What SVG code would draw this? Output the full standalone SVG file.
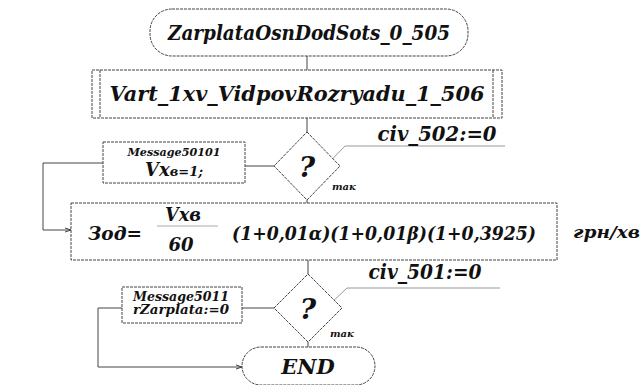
<svg xmlns="http://www.w3.org/2000/svg" width="642" height="385" viewBox="0 0 642 385">
  <style>
    .shape { fill: #fff; stroke: #444; stroke-width: 1; stroke-dasharray: 3 1; }
    .line { fill: none; stroke: #444; stroke-width: 1; }
    .note { fill: none; stroke: #999; stroke-width: 1; }
  </style>
  <defs>
    <marker id="arrow" markerWidth="6" markerHeight="6" refX="6" refY="3" orient="auto" markerUnits="userSpaceOnUse">
      <path d="M0,1 L6,3 L0,5" fill="none" stroke="#444" stroke-width="1"/>
    </marker>
  </defs>
  <rect width="642" height="385" fill="#fff"/>

  <!-- connectors -->
  <g id="connectors">
    <line class="line" x1="307" y1="56" x2="307" y2="70"/>
    <line class="line" x1="307" y1="118" x2="307" y2="132"/>
    <line class="line" x1="307" y1="200" x2="307" y2="203"/>
    <line class="line" x1="245" y1="166" x2="274" y2="166"/>
    <polyline class="line" points="103,163 43,163 43,230 71,230" marker-end="url(#arrow)"/>
    <line class="line" x1="308" y1="260" x2="308" y2="274"/>
    <line class="line" x1="242" y1="308" x2="274" y2="308"/>
    <line class="line" x1="308" y1="342" x2="308" y2="347"/>
    <polyline class="line" points="122,308 98,308 98,367 242,367" marker-end="url(#arrow)"/>
    <!-- condition callouts -->
    <polyline class="note" points="310,182 345,146 505,146"/>
    <polyline class="note" points="310,323 347,288 500,288"/>
  </g>

  <g font-family="DejaVu Serif, Liberation Serif, serif" font-weight="bold" font-style="italic" fill="#111">
  <g id="start">
    <rect class="shape" x="150" y="9" width="318" height="47" rx="22" ry="22"/>
    <text x="309" y="40" font-size="21" text-anchor="middle" textLength="282" lengthAdjust="spacingAndGlyphs">ZarplataOsnDodSots_0_505</text>
  </g>

  <g id="subprocess">
    <rect class="shape" x="92" y="70" width="410" height="48"/>
    <line class="shape" x1="100" y1="70" x2="100" y2="118"/>
    <line class="shape" x1="493" y1="70" x2="493" y2="118"/>
    <text x="297" y="101" font-size="21" text-anchor="middle" textLength="375" lengthAdjust="spacingAndGlyphs">Vart_1xv_VidpovRozryadu_1_506</text>
  </g>

  <g id="decision1">
    <polygon class="shape" points="307,132 340,166 307,200 274,166"/>
    <text x="307" y="177" font-size="28" text-anchor="middle">?</text>
    <text x="332" y="190" font-size="10">так</text>
    <text x="437" y="141" font-size="20" text-anchor="middle" textLength="119" lengthAdjust="spacingAndGlyphs">civ_502:=0</text>
  </g>

  <g id="message1">
    <rect class="shape" x="103" y="142" width="142" height="41"/>
    <text x="174" y="156" font-size="11" text-anchor="middle" textLength="93" lengthAdjust="spacingAndGlyphs">Message50101</text>
    <text x="174" y="176" font-size="18" text-anchor="middle"><tspan>Vx</tspan><tspan font-size="13">в=1;</tspan></text>
  </g>

  <g id="formula">
    <rect class="shape" x="71" y="203" width="486" height="57"/>
    <text x="88" y="240" font-size="19" textLength="54" lengthAdjust="spacingAndGlyphs">Зод=</text>
    <text x="183" y="221" font-size="18" text-anchor="middle" textLength="36" lengthAdjust="spacingAndGlyphs">Vxв</text>
    <line x1="157" y1="226" x2="218" y2="226" stroke="#aaa" stroke-width="1"/>
    <text x="181" y="251" font-size="18" text-anchor="middle">60</text>
    <text x="232" y="240" font-size="19" textLength="304" lengthAdjust="spacingAndGlyphs">(1+0,01α)(1+0,01β)(1+0,3925)</text>
    <text x="573" y="238" font-size="17" textLength="67" lengthAdjust="spacingAndGlyphs">грн/хв</text>
  </g>

  <g id="decision2">
    <polygon class="shape" points="308,274 342,308 308,342 274,308"/>
    <text x="308" y="319" font-size="28" text-anchor="middle">?</text>
    <text x="330" y="337" font-size="10">так</text>
    <text x="425" y="279" font-size="20" text-anchor="middle" textLength="113" lengthAdjust="spacingAndGlyphs">civ_501:=0</text>
  </g>

  <g id="message2">
    <rect class="shape" x="122" y="287" width="120" height="36"/>
    <text x="181" y="301" font-size="12" text-anchor="middle" textLength="96" lengthAdjust="spacingAndGlyphs">Message5011</text>
    <text x="181" y="314" font-size="12" text-anchor="middle" textLength="96" lengthAdjust="spacingAndGlyphs">rZarplata:=0</text>
  </g>

  <g id="end">
    <rect class="shape" x="242" y="347" width="133" height="38" rx="19" ry="19"/>
    <text x="308" y="374" font-size="21" text-anchor="middle">END</text>
  </g>
  </g>
</svg>
